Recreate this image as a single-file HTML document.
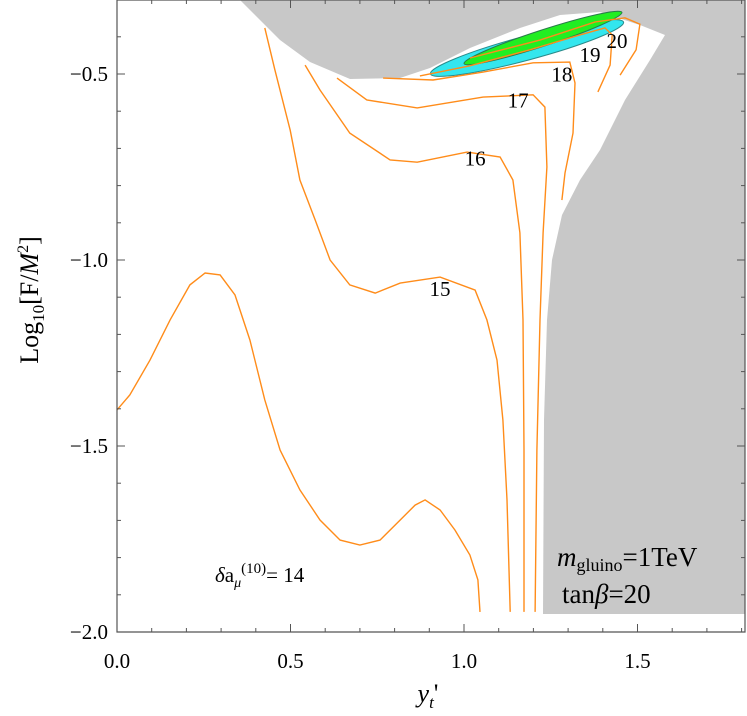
<!DOCTYPE html>
<html><head><meta charset="utf-8"><style>
body{margin:0;background:#fff;}
svg{display:block;}
text{font-family:"Liberation Serif","DejaVu Serif",serif;}
</style></head><body>
<svg id="chart" width="747" height="716" viewBox="0 0 747 716" xmlns="http://www.w3.org/2000/svg" font-family="Liberation Serif, serif"></svg>
<script>
const xTicks=[0,0.5,1.0,1.5];
const xTickLabels=["0.0","0.5","1.0","1.5"];
const yTicks=[-2.0,-1.5,-1.0,-0.5];
const yTickLabels=["\u22122.0","\u22121.5","\u22121.0","\u22120.5"];
const contourLevels=[14,15,16,17,18,19,20];
const c14x=[0,.037,.095,.153,.210,.254,.297,.340,.383,.426,.470,.527,.585,.643,.700,.758,.816,.859,.888,.931,.974,1.017,1.040,1.046];
const c14y=[-1.403,-1.363,-1.269,-1.161,-1.067,-1.035,-1.040,-1.094,-1.215,-1.376,-1.511,-1.618,-1.699,-1.753,-1.766,-1.753,-1.699,-1.659,-1.645,-1.672,-1.726,-1.793,-1.860,-1.946];
const c15x=[.426,.455,.499,.527,.571,.614,.671,.744,.816,.931,1.032,1.066,1.095,1.112,1.124,1.133];
const c15y=[-0.376,-0.489,-0.651,-0.785,-0.892,-1.000,-1.067,-1.089,-1.062,-1.046,-1.081,-1.161,-1.269,-1.430,-1.645,-1.946];
const c16x=[.542,.585,.671,.787,.865,1.009,1.104,1.141,1.161,1.170,1.173,1.173];
const c16y=[-0.476,-0.543,-0.659,-0.731,-0.737,-0.710,-0.723,-0.785,-0.927,-1.161,-1.511,-1.946];
const c17x=[.634,.720,.865,1.055,1.199,1.233,1.239,1.228,1.219,1.210,1.205];
const c17y=[-0.511,-0.570,-0.591,-0.562,-0.556,-0.589,-0.750,-0.927,-1.161,-1.511,-1.946];
const c18x=[.767,.911,1.055,1.199,1.305,1.320,1.314,1.291,1.282];
const c18y=[-0.511,-0.516,-0.495,-0.470,-0.468,-0.524,-0.659,-0.766,-0.839];
const c19x=[.873,1.017,1.190,1.334,1.406,1.427,1.421,1.386];
const c19y=[-0.505,-0.478,-0.435,-0.395,-0.376,-0.395,-0.476,-0.548];
const c20x=[1.017,1.219,1.378,1.464,1.507,1.496,1.450];
const c20y=[-0.457,-0.409,-0.360,-0.349,-0.366,-0.435,-0.503];
const labelX=[null,0.931,1.032,1.156,1.282,1.363,1.441];
const labelY=[null,-1.097,-0.746,-0.590,-0.520,-0.468,-0.430];

const X0=117,XS=347,Y0=632,YS=372;
const sx=v=>X0+v*XS, sy=v=>Y0-(v+2)*YS;
const svg=document.getElementById('chart');
const NS='http://www.w3.org/2000/svg';
function mk(t,a,parent){const e=document.createElementNS(NS,t);for(const k in a)e.setAttribute(k,a[k]);(parent||svg).appendChild(e);return e;}

let g=mk('polygon',{points:"240,0 745,0 745,614 543,614 544,420 547,320 552,260 562,215 580,180 600,150 625,100 650,60 665,35 640,25 600,12 560,15 520,28 470,48 430,68 400,78 350,79 310,62 280,40 255,15",fill:"#c8c8c8"});



let e1=mk('ellipse',{cx:527,cy:48,rx:100,ry:12,fill:"#33e6ee",stroke:"#2a8a8a","stroke-width":1,transform:"rotate(-15 527 48)"});


let e2=mk('ellipse',{cx:543,cy:38,rx:83,ry:8,fill:"#22ee22",stroke:"#2a7a4a","stroke-width":1,transform:"rotate(-18 543 38)"});



const cx=[c14x,c15x,c16x,c17x,c18x,c19x,c20x], cy=[c14y,c15y,c16y,c17y,c18y,c19y,c20y];
const FF='Liberation Serif, DejaVu Serif, serif';
contourLevels.forEach((lv,i)=>{
  const pts=cx[i].map((x,j)=>sx(x).toFixed(1)+','+sy(cy[i][j]).toFixed(1)).join(' ');
  const p=mk('polyline',{points:pts,fill:'none',stroke:'#ff8c1a','stroke-width':1.4});
  
  
  if(labelX[i]!==null){
    const t=mk('text',{x:sx(labelX[i]),y:sy(labelY[i]),'font-size':21,'font-family':FF,'text-anchor':'middle',fill:'#000'});
    t.textContent=lv;
    
    
  }
});

let fr=mk('path',{d:"M117,0 V632 H745 V0 Z",fill:'none',stroke:'#555','stroke-width':1.2});


for(let i=0;i<=18;i++){const x=sx(i/10),L=(i%5==0)?8:4;
  mk('line',{x1:x,x2:x,y1:632,y2:632-L,stroke:'#555'});mk('line',{x1:x,x2:x,y1:0,y2:L,stroke:'#555'});}
for(let i=0;i<=17;i++){const y=sy(-2+i/10),L=(i%5==0)?8:4;
  mk('line',{x1:117,x2:117+L,y1:y,y2:y,stroke:'#555'});mk('line',{x1:745,x2:745-L,y1:y,y2:y,stroke:'#555'});}
xTicks.forEach((v,i)=>{const t=mk('text',{x:sx(v),y:668,'font-size':21,'font-family':FF,'text-anchor':'middle'});t.textContent=xTickLabels[i];
  
  });
yTicks.forEach((v,i)=>{const t=mk('text',{x:108,y:sy(v)+7,'font-size':21,'font-family':FF,'text-anchor':'end'});t.textContent=yTickLabels[i];
  
  });
</script>
<svg style="position:absolute;left:0;top:0" width="747" height="716">
<g font-family="Liberation Serif, DejaVu Serif, serif">
<text x="428" y="702" font-size="26" text-anchor="middle"><tspan font-style="italic">y</tspan><tspan font-size="17" font-style="italic" dy="6">t</tspan><tspan dy="-6">'</tspan></text>
<text transform="translate(38,300) rotate(-90)" font-size="26" text-anchor="middle">Log<tspan font-size="17" dy="6">10</tspan><tspan dy="-6">[F/</tspan><tspan font-style="italic">M</tspan><tspan font-size="16" dy="-10">2</tspan><tspan dy="10">]</tspan></text>
<text x="215" y="582" font-size="21"><tspan font-style="italic">δ</tspan>a<tspan font-size="14" font-style="italic" dy="5">μ</tspan><tspan font-size="15" dy="-14">(10)</tspan><tspan dy="9">= 14</tspan></text>
<text x="557" y="566" font-size="27"><tspan font-style="italic">m</tspan><tspan font-size="18" dy="5">gluino</tspan><tspan dy="-5">=1TeV</tspan></text>
<text x="562" y="603" font-size="27">tan<tspan font-style="italic">β</tspan>=20</text>
</g></svg>
</body></html>
